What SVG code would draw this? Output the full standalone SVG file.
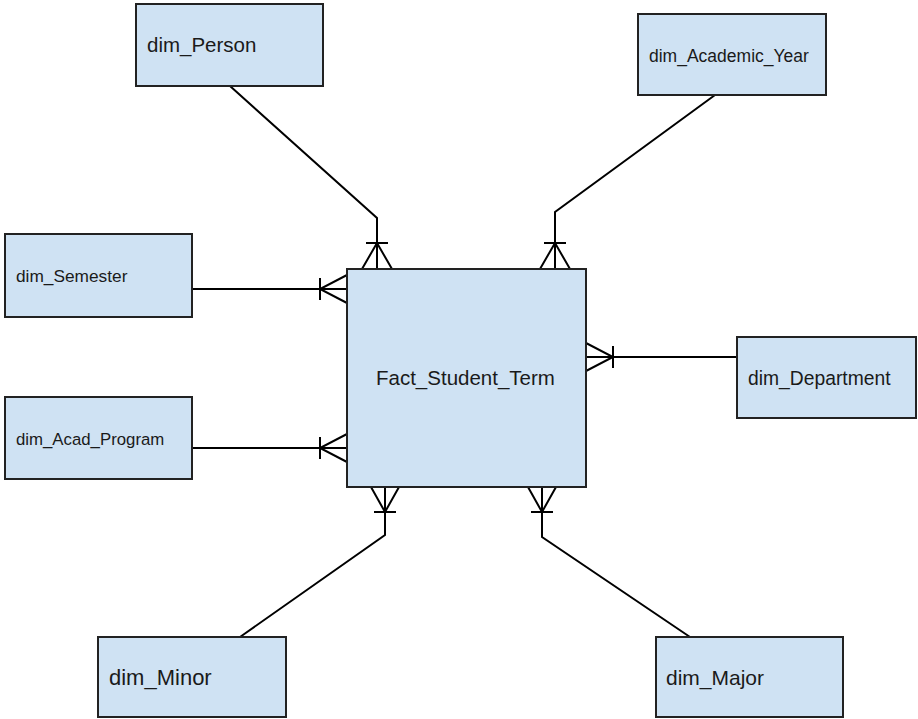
<svg xmlns="http://www.w3.org/2000/svg" width="918" height="719" viewBox="0 0 918 719">
  <style>
    .box { fill: #cfe2f3; stroke: #222; stroke-width: 2; }
    .lbl { font-family: "Liberation Sans", Arial, sans-serif; fill: #1a1a1a; }
    .conn { fill: none; stroke: #000; stroke-width: 2; }
  </style>
  <rect width="918" height="719" fill="#fff"/>

  <!-- connectors with crow's foot (many) ends at the fact table -->
  <g id="connectors" class="conn">
    <!-- dim_Person -->
    <polyline points="230,86 377,218 377,269"/>
    <line x1="366" y1="243" x2="388" y2="243"/>
    <polyline points="362,269 377,243 392,269"/>
    <!-- dim_Academic_Year -->
    <polyline points="715,95 555,212 555,269"/>
    <line x1="544" y1="243" x2="566" y2="243"/>
    <polyline points="540,269 555,243 570,269"/>
    <!-- dim_Semester -->
    <line x1="192" y1="289" x2="347" y2="289"/>
    <line x1="320" y1="278" x2="320" y2="300"/>
    <polyline points="347,275 320,289 347,303"/>
    <!-- dim_Acad_Program -->
    <line x1="192" y1="448" x2="347" y2="448"/>
    <line x1="320" y1="437" x2="320" y2="459"/>
    <polyline points="347,434 320,448 347,462"/>
    <!-- dim_Department -->
    <line x1="586" y1="357" x2="737" y2="357"/>
    <line x1="613" y1="346" x2="613" y2="368"/>
    <polyline points="586,343 613,357 586,371"/>
    <!-- dim_Minor -->
    <polyline points="385,487 385,535 240,637"/>
    <line x1="374" y1="512" x2="396" y2="512"/>
    <polyline points="371,487 385,512 399,487"/>
    <!-- dim_Major -->
    <polyline points="542,487 542,537 690,637"/>
    <line x1="531" y1="512" x2="553" y2="512"/>
    <polyline points="528,487 542,512 556,487"/>
  </g>

  <g id="fact_student_term">
    <rect class="box" x="347" y="269" width="239" height="218"/>
    <text class="lbl" x="376" y="385" font-size="20.5">Fact_Student_Term</text>
  </g>
  <g id="dim_person">
    <rect class="box" x="136" y="4" width="187" height="82"/>
    <text class="lbl" x="147" y="52" font-size="20.5">dim_Person</text>
  </g>
  <g id="dim_academic_year">
    <rect class="box" x="638" y="14" width="188" height="81"/>
    <text class="lbl" x="649" y="62" font-size="17.5">dim_Academic_Year</text>
  </g>
  <g id="dim_semester">
    <rect class="box" x="5" y="234" width="187" height="83"/>
    <text class="lbl" x="16" y="282" font-size="17.3">dim_Semester</text>
  </g>
  <g id="dim_acad_program">
    <rect class="box" x="5" y="397" width="187" height="82"/>
    <text class="lbl" x="16" y="445" font-size="16.8">dim_Acad_Program</text>
  </g>
  <g id="dim_department">
    <rect class="box" x="737" y="337" width="179" height="81"/>
    <text class="lbl" x="748" y="385" font-size="19.3">dim_Department</text>
  </g>
  <g id="dim_minor">
    <rect class="box" x="98" y="637" width="188" height="80"/>
    <text class="lbl" x="109" y="685" font-size="22">dim_Minor</text>
  </g>
  <g id="dim_major">
    <rect class="box" x="656" y="637" width="187" height="80"/>
    <text class="lbl" x="666" y="685" font-size="21">dim_Major</text>
  </g>
</svg>
